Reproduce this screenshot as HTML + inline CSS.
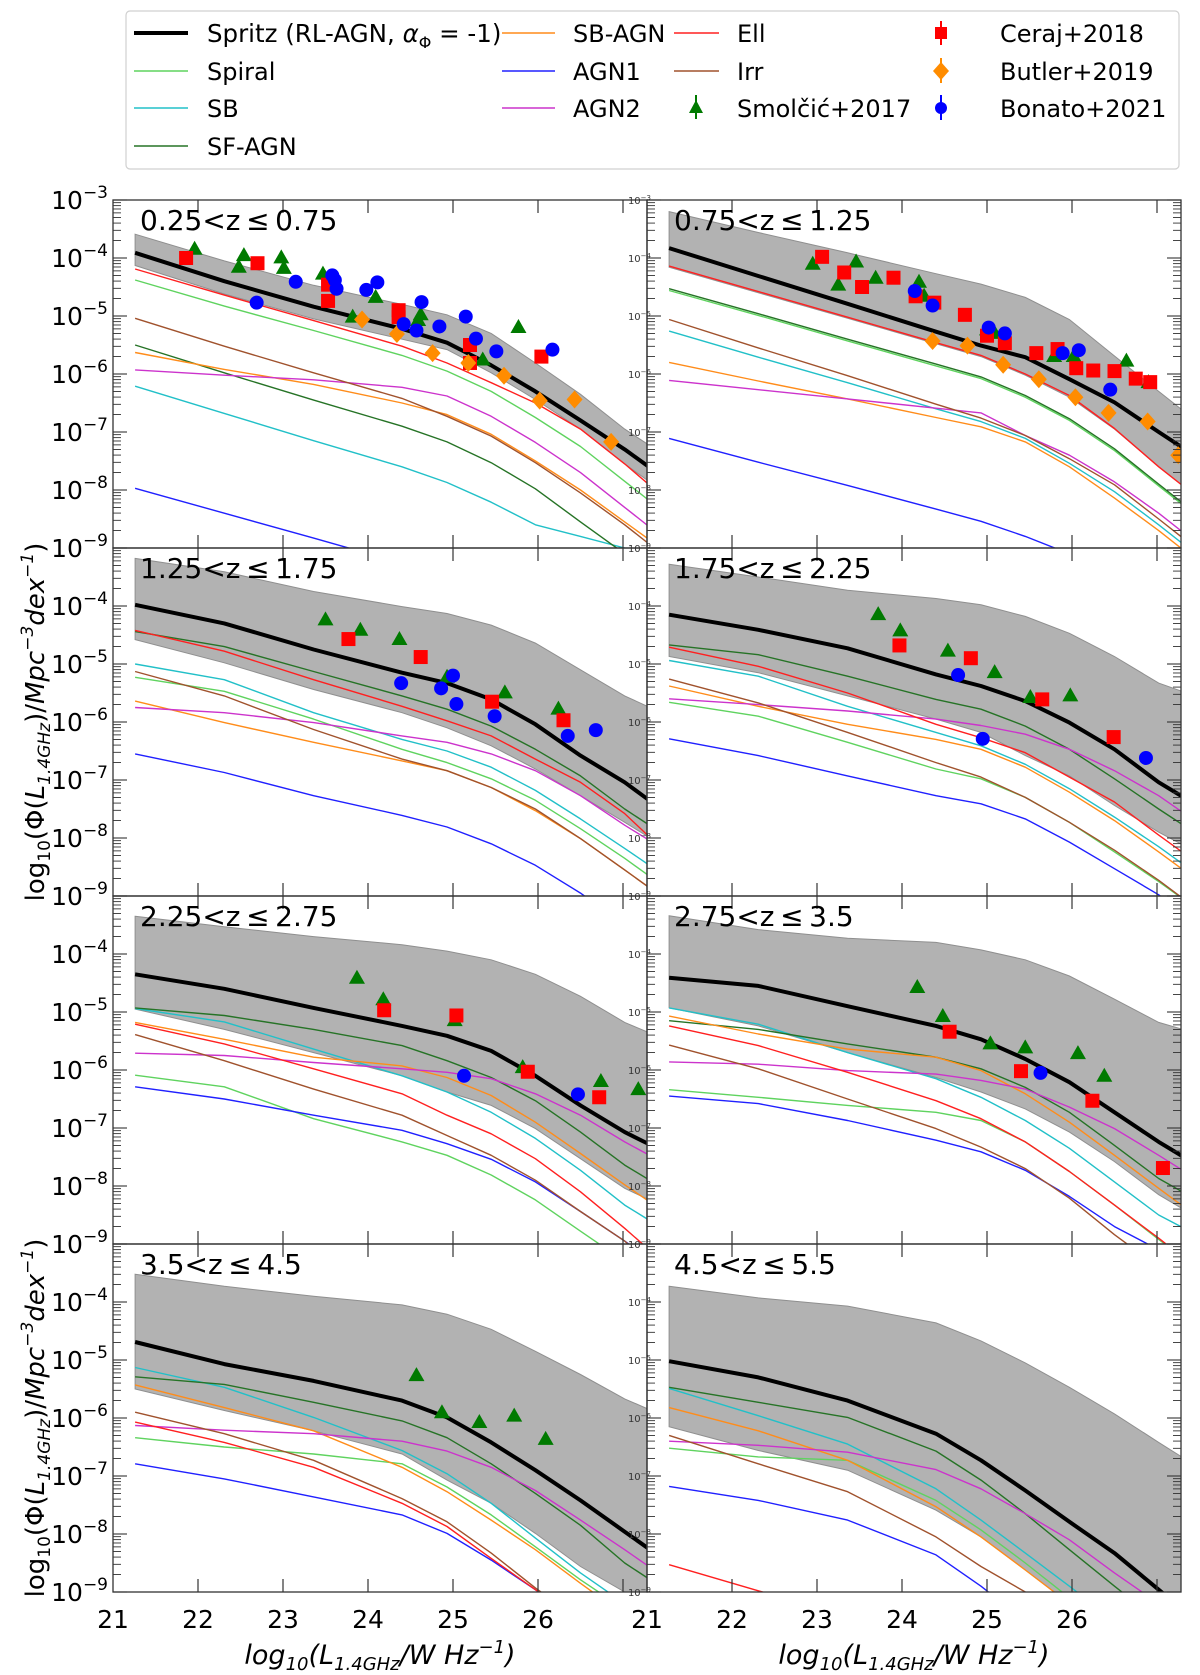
<!DOCTYPE html>
<html><head><meta charset="utf-8"><style>
html,body{margin:0;padding:0;background:#fff;}
svg{display:block;font-family:"DejaVu Sans","Liberation Sans",sans-serif;}
</style></head><body>
<svg id="fig" width="1200" height="1675" viewBox="0 0 1200 1675" xmlns="http://www.w3.org/2000/svg">
<g id="legend">
<rect x="126" y="11" width="1053" height="158" rx="4" fill="#fff" stroke="#d0d0d0" stroke-width="1.2"/>
<g><line x1="134" y1="33" x2="188" y2="33" stroke="#000" stroke-width="4"/><text x="207" y="42" font-size="24.5">Spritz (RL-AGN, <tspan font-style="italic">α</tspan><tspan font-size="16" dy="6">Φ</tspan><tspan dy="-6"> = -1)</tspan></text></g>
<g><line x1="134" y1="71" x2="188" y2="71" stroke="#5fd35f" stroke-width="1.5"/><text x="207" y="80" font-size="24">Spiral</text></g>
<g><line x1="134" y1="108" x2="188" y2="108" stroke="#22c0c8" stroke-width="1.5"/><text x="207" y="117" font-size="24">SB</text></g>
<g><line x1="134" y1="146" x2="188" y2="146" stroke="#267326" stroke-width="1.5"/><text x="207" y="155" font-size="24">SF-AGN</text></g>
<g><line x1="502" y1="33" x2="555" y2="33" stroke="#ff8c1a" stroke-width="1.5"/><text x="573" y="42" font-size="24">SB-AGN</text></g>
<g><line x1="502" y1="71" x2="555" y2="71" stroke="#2020ff" stroke-width="1.5"/><text x="573" y="80" font-size="24">AGN1</text></g>
<g><line x1="502" y1="108" x2="555" y2="108" stroke="#cc33cc" stroke-width="1.5"/><text x="573" y="117" font-size="24">AGN2</text></g>
<g><line x1="674" y1="33" x2="719" y2="33" stroke="#ff2020" stroke-width="1.5"/><text x="737" y="42" font-size="24">Ell</text></g>
<g><line x1="674" y1="71" x2="719" y2="71" stroke="#a0522d" stroke-width="1.5"/><text x="737" y="80" font-size="24">Irr</text></g>
<g><line x1="696" y1="95" x2="696" y2="119" stroke="#007a00" stroke-width="2"/><polygon points="696,100 703,113 689,113" fill="#007a00"/><text x="737" y="117" font-size="24">Smolčić+2017</text></g>
<g><line x1="941" y1="21" x2="941" y2="45" stroke="#f00" stroke-width="2"/><rect x="935" y="27" width="12" height="12" fill="#f00"/><text x="1000" y="42" font-size="24">Ceraj+2018</text></g>
<g><line x1="941" y1="58" x2="941" y2="83" stroke="#ff8c00" stroke-width="2"/><polygon points="941,62 949,71 941,80 933,71" fill="#ff8c00"/><text x="1000" y="80" font-size="24">Butler+2019</text></g>
<g><line x1="941" y1="95" x2="941" y2="120" stroke="#0000ff" stroke-width="2"/><circle cx="941" cy="108" r="6" fill="#0000ff"/><text x="1000" y="117" font-size="24">Bonato+2021</text></g>
</g>
<g id="panels"></g>
<g id="axes-text"></g>
</svg>
<script>
const lGrid = [21.26,22.31,23.36,24.40,24.93,25.45,25.97,26.50,27.02,27.54];
const panelTitles = ["0.25<z\u2009\u2264\u20090.75","0.75<z\u2009\u2264\u20091.25","1.25<z\u2009\u2264\u20091.75","1.75<z\u2009\u2264\u20092.25","2.25<z\u2009\u2264\u20092.75","2.75<z\u2009\u2264\u20093.5","3.5<z\u2009\u2264\u20094.5","4.5<z\u2009\u2264\u20095.5"];
const xTickValues = [22,23,24,25,26,27];
const xTickLabelsLeft = ["21","22","23","24","25","26"];
const xTickLabelsRight = ["21","22","23","24","25","26"];
const yTickExps = [-3,-4,-5,-6,-7,-8,-9];

const spritz = [
[-3.91,-4.40,-4.84,-5.22,-5.46,-5.85,-6.30,-6.80,-7.30,-7.85],
[-3.83,-4.31,-4.79,-5.27,-5.51,-5.71,-6.09,-6.49,-7.0,-7.5],
[-3.98,-4.30,-4.75,-5.15,-5.33,-5.61,-6.04,-6.58,-7.04,-7.6],
[-4.15,-4.41,-4.73,-5.18,-5.38,-5.64,-6.01,-6.47,-7.04,-7.5],
[-4.35,-4.60,-4.93,-5.24,-5.41,-5.67,-6.10,-6.61,-7.07,-7.45],
[-4.41,-4.55,-4.90,-5.24,-5.47,-5.81,-6.21,-6.73,-7.24,-7.7],
[-4.69,-5.07,-5.36,-5.70,-5.99,-6.42,-6.90,-7.42,-7.96,-8.5],
[-5.02,-5.30,-5.70,-6.27,-6.73,-7.25,-7.79,-8.33,-8.96,-9.6]];
const bandUpper = [
[-3.59,-4.05,-4.47,-4.80,-4.98,-5.30,-5.81,-6.35,-6.95,-7.45],
[-3.2,-3.56,-3.91,-4.27,-4.45,-4.68,-5.06,-5.69,-6.3,-6.9],
[-3.18,-3.41,-3.75,-4.01,-4.13,-4.33,-4.64,-5.10,-5.55,-5.9],
[-3.28,-3.50,-3.73,-3.87,-3.98,-4.18,-4.47,-4.87,-5.33,-5.6],
[-3.35,-3.53,-3.70,-3.84,-3.95,-4.10,-4.35,-4.73,-5.18,-5.5],
[-3.34,-3.58,-3.73,-3.80,-3.93,-4.10,-4.38,-4.78,-5.18,-5.4],
[-3.52,-3.73,-3.90,-4.05,-4.21,-4.47,-4.85,-5.25,-5.67,-6.0],
[-3.73,-3.93,-4.07,-4.36,-4.67,-5.05,-5.47,-5.93,-6.42,-6.9]];
const bandLower = [
[-4.13,-4.62,-5.05,-5.40,-5.58,-5.98,-6.44,-6.95,-7.55,-8.1],
[-4.16,-4.60,-5.04,-5.48,-5.70,-6.02,-6.40,-6.95,-7.6,-8.2],
[-4.58,-4.98,-5.44,-5.84,-6.10,-6.41,-6.81,-7.27,-7.73,-8.2],
[-4.87,-5.15,-5.55,-5.95,-6.18,-6.58,-6.93,-7.44,-7.90,-8.3],
[-4.95,-5.30,-5.70,-6.10,-6.38,-6.61,-7.01,-7.53,-8.04,-8.4],
[-4.93,-5.24,-5.70,-6.13,-6.38,-6.67,-7.07,-7.58,-8.15,-8.6],
[-5.50,-5.87,-6.22,-6.62,-7.07,-7.47,-7.99,-8.56,-9.0,-9.6],
[-6.15,-6.56,-6.90,-7.59,-8.05,-8.62,-9.2,-9.8,-10,-10]];
const spiral = [
[-4.38,-4.83,-5.25,-5.68,-5.95,-6.30,-6.75,-7.25,-7.85,-8.45],
[-4.56,-4.99,-5.43,-5.86,-6.08,-6.40,-6.80,-7.32,-7.93,-8.53],
[-5.23,-5.47,-5.95,-6.47,-6.70,-6.98,-7.35,-7.84,-8.35,-8.9],
[-5.66,-5.90,-6.35,-6.81,-6.98,-7.30,-7.73,-8.24,-8.75,-9.3],
[-6.09,-6.29,-6.84,-7.24,-7.47,-7.81,-8.24,-8.78,-9.3,-9.8],
[-6.34,-6.47,-6.61,-6.73,-6.87,-7.24,-7.75,-8.33,-8.92,-9.5],
[-6.34,-6.50,-6.62,-6.79,-7.19,-7.67,-8.22,-8.79,-9.3,-9.9],
[-6.52,-6.67,-6.73,-7.42,-7.93,-8.50,-9.1,-9.7,-10,-10]];
const sb = [
[-6.21,-6.68,-7.15,-7.60,-7.87,-8.21,-8.6,-8.8,-9.0,-9.2],
[-5.26,-5.71,-6.15,-6.6,-6.82,-7.11,-7.54,-8.03,-8.6,-9.2],
[-5.0,-5.27,-5.84,-6.30,-6.50,-6.78,-7.18,-7.67,-8.18,-8.7],
[-4.94,-5.21,-5.73,-6.18,-6.41,-6.73,-7.15,-7.64,-8.15,-8.7],
[-4.94,-5.17,-5.64,-6.10,-6.38,-6.73,-7.18,-7.73,-8.33,-8.8],
[-4.93,-5.21,-5.70,-6.15,-6.47,-6.87,-7.35,-7.93,-8.50,-8.9],
[-5.13,-5.47,-5.99,-6.56,-6.96,-7.47,-8.07,-8.67,-9.2,-9.8],
[-5.49,-5.96,-6.45,-7.22,-7.76,-8.33,-8.9,-9.5,-10,-10]];
const sfAgn = [
[-5.50,-5.98,-6.45,-6.90,-7.17,-7.53,-7.98,-8.55,-9.1,-9.7],
[-4.53,-4.96,-5.40,-5.83,-6.05,-6.37,-6.77,-7.29,-7.9,-8.5],
[-4.44,-4.70,-5.13,-5.55,-5.78,-6.07,-6.47,-6.93,-7.50,-8.0],
[-4.67,-4.84,-5.21,-5.61,-5.78,-6.07,-6.47,-6.98,-7.50,-8.0],
[-4.93,-5.06,-5.30,-5.58,-5.84,-6.13,-6.53,-7.07,-7.64,-8.1],
[-5.15,-5.30,-5.55,-5.78,-5.98,-6.30,-6.73,-7.30,-7.87,-8.3],
[-5.29,-5.42,-5.73,-6.05,-6.34,-6.79,-7.30,-7.85,-8.50,-9.0],
[-5.47,-5.73,-5.99,-6.57,-7.07,-7.65,-8.27,-8.90,-9.5,-10]];
const sbAgn = [
[-5.63,-5.92,-6.18,-6.50,-6.70,-7.04,-7.50,-8.0,-8.55,-9.1],
[-5.80,-6.12,-6.43,-6.75,-6.91,-7.17,-7.6,-8.14,-8.7,-9.3],
[-5.64,-6.01,-6.35,-6.67,-6.84,-7.13,-7.53,-8.01,-8.55,-9.1],
[-5.38,-5.73,-6.04,-6.30,-6.47,-6.78,-7.21,-7.70,-8.24,-8.8],
[-5.18,-5.47,-5.78,-5.93,-6.13,-6.44,-6.90,-7.44,-7.98,-8.5],
[-5.07,-5.38,-5.64,-5.78,-6.01,-6.41,-6.90,-7.47,-8.04,-8.6],
[-5.43,-5.82,-6.22,-6.85,-7.27,-7.76,-8.27,-8.85,-9.4,-10],
[-5.82,-6.22,-6.73,-7.53,-8.05,-8.62,-9.2,-9.8,-10,-10]];
const agn1 = [
[-7.97,-8.40,-8.83,-9.26,-9.5,-9.8,-10,-10,-10,-10],
[-7.11,-7.52,-7.92,-8.33,-8.54,-8.8,-9.1,-9.5,-10,-10],
[-6.55,-6.87,-7.27,-7.61,-7.81,-8.10,-8.47,-8.95,-9.5,-10],
[-6.29,-6.58,-6.93,-7.27,-7.41,-7.67,-8.07,-8.53,-8.98,-9.6],
[-6.29,-6.50,-6.78,-7.04,-7.27,-7.54,-7.93,-8.44,-8.95,-9.5],
[-6.45,-6.58,-6.87,-7.21,-7.41,-7.73,-8.18,-8.70,-9.1,-9.6],
[-6.79,-7.05,-7.36,-7.67,-7.99,-8.45,-8.96,-9.5,-10,-10],
[-7.18,-7.42,-7.76,-8.36,-8.90,-9.5,-10,-10,-10,-10]];
const agn2 = [
[-5.93,-6.02,-6.10,-6.23,-6.38,-6.73,-7.18,-7.70,-8.3,-8.9],
[-6.11,-6.27,-6.43,-6.59,-6.67,-7.06,-7.40,-7.86,-8.4,-9.0],
[-5.75,-5.84,-6.01,-6.24,-6.35,-6.55,-6.84,-7.27,-7.78,-8.25],
[-5.60,-5.70,-5.81,-5.95,-6.06,-6.21,-6.47,-6.84,-7.27,-7.8],
[-5.71,-5.75,-5.87,-5.98,-6.04,-6.15,-6.41,-6.78,-7.24,-7.65],
[-5.86,-5.90,-6.01,-6.07,-6.18,-6.33,-6.64,-7.01,-7.47,-7.95],
[-6.13,-6.21,-6.27,-6.40,-6.57,-6.85,-7.25,-7.76,-8.27,-8.8],
[-6.40,-6.47,-6.59,-6.89,-7.22,-7.65,-8.10,-8.67,-9.2,-9.8]];
const ell = [
[-4.19,-4.64,-5.08,-5.52,-5.81,-6.15,-6.50,-6.95,-7.55,-8.2],
[-4.14,-4.58,-5.02,-5.46,-5.68,-6.0,-6.37,-6.94,-7.6,-8.2],
[-4.42,-4.78,-5.27,-5.73,-5.98,-6.24,-6.64,-7.04,-7.58,-8.3],
[-4.71,-5.04,-5.50,-6.04,-6.27,-6.53,-6.95,-7.38,-7.95,-8.5],
[-5.21,-5.55,-5.98,-6.41,-6.78,-7.10,-7.53,-8.10,-8.73,-9.4],
[-5.24,-5.58,-6.04,-6.53,-6.84,-7.24,-7.75,-8.33,-8.90,-9.5],
[-6.07,-6.42,-6.85,-7.47,-7.87,-8.42,-8.96,-9.5,-10,-10],
[-8.53,-8.98,-9.4,-9.9,-10,-10,-10,-10,-10,-10]];
const irr = [
[-5.04,-5.52,-5.98,-6.42,-6.73,-7.07,-7.53,-8.05,-8.6,-9.2],
[-5.06,-5.55,-6.03,-6.52,-6.76,-7.06,-7.46,-7.91,-8.5,-9.1],
[-5.13,-5.55,-6.13,-6.64,-6.84,-7.13,-7.50,-8.01,-8.55,-9.1],
[-5.26,-5.67,-6.18,-6.70,-6.95,-7.30,-7.73,-8.21,-8.73,-9.3],
[-5.39,-5.84,-6.33,-6.78,-7.13,-7.47,-7.90,-8.44,-8.95,-9.6],
[-5.57,-5.98,-6.50,-7.01,-7.33,-7.70,-8.21,-8.84,-9.4,-10],
[-5.90,-6.27,-6.73,-7.39,-7.79,-8.33,-8.93,-9.5,-10,-10],
[-6.30,-6.79,-7.27,-8.05,-8.56,-9.0,-9.6,-10,-10,-10]];

const smolcic = [
[0,21.96,-3.84],[0,22.54,-3.95],[0,22.48,-4.15],[0,22.98,-3.99],[0,23.01,-4.17],[0,23.47,-4.27],[0,23.82,-5.01],[0,24.09,-4.67],[0,24.62,-4.97],[0,24.59,-5.07],[0,25.35,-5.75],[0,25.77,-5.19],
[1,22.95,-4.10],[1,23.25,-4.46],[1,23.46,-4.06],[1,23.69,-4.34],[1,24.20,-4.41],[1,24.26,-4.65],[1,25.00,-5.23],[1,25.09,-5.29],[1,25.79,-5.69],[1,26.02,-5.69],[1,26.64,-5.77],[1,26.9,-6.14],
[2,23.50,-4.23],[2,23.91,-4.41],[2,24.37,-4.57],[2,24.93,-5.22],[2,25.61,-5.49],[2,26.24,-5.77],
[3,23.72,-4.14],[3,23.98,-4.42],[3,24.54,-4.77],[3,25.09,-5.14],[3,25.51,-5.57],[3,25.98,-5.54],
[4,23.87,-4.41],[4,24.18,-4.78],[4,25.02,-5.14],[4,25.82,-5.95],[4,26.74,-6.19],[4,27.18,-6.33],
[5,24.18,-4.57],[5,24.48,-5.07],[5,25.04,-5.54],[5,25.45,-5.61],[5,26.07,-5.71],[5,26.38,-6.10],
[6,24.57,-5.26],[6,24.87,-5.90],[6,25.31,-6.07],[6,25.72,-5.96],[6,26.09,-6.36]];
const ceraj = [
[0,21.86,-4.0],[0,22.70,-4.09],[0,23.53,-4.46],[0,23.53,-4.74],[0,24.36,-4.90],[0,24.36,-5.02],[0,25.20,-5.50],[0,25.20,-5.81],[0,26.04,-5.70],
[1,23.06,-3.98],[1,23.32,-4.25],[1,23.53,-4.50],[1,23.90,-4.34],[1,24.16,-4.66],[1,24.38,-4.77],[1,24.74,-4.98],[1,25.00,-5.34],[1,25.21,-5.47],[1,25.58,-5.64],[1,25.83,-5.57],[1,26.05,-5.90],[1,26.25,-5.94],[1,26.50,-5.95],[1,26.75,-6.08],[1,26.92,-6.14],
[2,23.77,-4.57],[2,24.62,-4.88],[2,25.46,-5.65],[2,26.30,-5.97],
[3,23.97,-4.68],[3,24.81,-4.90],[3,25.65,-5.61],[3,26.49,-6.26],
[4,24.19,-4.97],[4,25.04,-5.06],[4,25.88,-6.03],[4,26.72,-6.47],
[5,24.56,-5.34],[5,25.40,-6.02],[5,26.24,-6.53],[5,27.07,-7.69]];
const butler = [
[0,23.93,-5.06],[0,24.34,-5.31],[0,24.76,-5.64],[0,25.18,-5.81],[0,25.60,-6.03],[0,26.02,-6.46],[0,26.43,-6.44],[0,26.86,-7.17],
[1,24.36,-5.43],[1,24.77,-5.51],[1,25.19,-5.84],[1,25.61,-6.09],[1,26.04,-6.40],[1,26.43,-6.67],[1,26.89,-6.82],[1,27.25,-7.4]];
const bonato = [
[0,22.69,-4.77],[0,23.15,-4.41],[0,23.58,-4.30],[0,23.61,-4.38],[0,23.63,-4.53],[0,23.98,-4.55],[0,24.11,-4.42],[0,24.42,-5.14],[0,24.57,-5.25],[0,24.63,-4.76],[0,24.84,-5.18],[0,25.15,-5.01],[0,25.27,-5.39],[0,25.51,-5.61],[0,26.17,-5.58],
[1,24.15,-4.57],[1,24.36,-4.82],[1,25.02,-5.20],[1,25.21,-5.30],[1,25.89,-5.64],[1,26.08,-5.59],[1,26.45,-6.27],
[2,24.39,-5.33],[2,24.86,-5.42],[2,25.00,-5.20],[2,25.04,-5.69],[2,25.49,-5.90],[2,26.35,-6.24],[2,26.68,-6.14],
[3,24.66,-5.19],[3,24.95,-6.29],[3,26.87,-6.62],
[4,25.13,-6.10],[4,26.47,-6.42],
[5,25.63,-6.05]];

const NS = "http://www.w3.org/2000/svg";
const PX0 = 113, PW = 534, PY0 = 200, PH = 348, UNIT = 85, DEC = 58;
function panelLeft(p){ return PX0 + (p % 2) * PW; }
function panelTop(p){ return PY0 + Math.floor(p / 2) * PH; }
function xScale(p, L){ return panelLeft(p) + (L - 21) * UNIT; }
function yScale(p, v){ return panelTop(p) + (-3 - v) * DEC; }
function mk(tag, attrs, parent){ const e = document.createElementNS(NS, tag); for (const k in attrs) e.setAttribute(k, attrs[k]); if (parent) parent.appendChild(e); return e; }

const panelsG = document.getElementById('panels');
const txtG = document.getElementById('axes-text');
const defs = mk('defs', {}, document.getElementById('fig'));

const series = [
 ['spiral-line', spiral, '#5fd35f'], ['sb-line', sb, '#22c0c8'], ['sf-agn-line', sfAgn, '#267326'],
 ['sb-agn-line', sbAgn, '#ff8c1a'], ['agn1-line', agn1, '#2020ff'], ['agn2-line', agn2, '#cc33cc'],
 ['ell-line', ell, '#ff2020'], ['irr-line', irr, '#a0522d']];

for (let p = 0; p < 8; p++) {
  const x0 = panelLeft(p), y0 = panelTop(p);
  const cp = mk('clipPath', {id: 'clip' + p}, defs);
  mk('rect', {x: x0, y: y0, width: PW, height: PH}, cp);
  const g = mk('g', {'clip-path': 'url(#clip' + p + ')'}, panelsG);
  
  
  let d = '';
  lGrid.forEach((L, i) => { d += (i ? 'L' : 'M') + xScale(p, L).toFixed(1) + ',' + yScale(p, bandUpper[p][i]).toFixed(1); });
  for (let i = lGrid.length - 1; i >= 0; i--) d += 'L' + xScale(p, lGrid[i]).toFixed(1) + ',' + yScale(p, bandLower[p][i]).toFixed(1);
  const band = mk('path', {d: d + 'Z', fill: '#b2b2b2', stroke: '#8f8f8f', 'stroke-width': 1}, g);
  
  
  const line = (arr, col, w, name) => {
    const pts = lGrid.map((L, i) => xScale(p, L).toFixed(1) + ',' + yScale(p, arr[p][i]).toFixed(1)).join(' ');
    const e = mk('polyline', {points: pts, fill: 'none', stroke: col, 'stroke-width': w, 'stroke-linejoin': 'round'}, g);
    
    
  };
  series.forEach(s => line(s[1], s[2], 1.4, s[0]));
  line(spritz, '#000', 4, 'spritz-total-line');
  smolcic.filter(q => q[0] === p).forEach(q => {
    const cx = xScale(p, q[1]), cy = yScale(p, q[2]);
    const e = mk('polygon', {points: `${cx},${cy-8} ${cx+8},${cy+6} ${cx-8},${cy+6}`, fill: '#007a00'}, g);
    
    
  });
  ceraj.filter(q => q[0] === p).forEach(q => {
    const cx = xScale(p, q[1]), cy = yScale(p, q[2]);
    const e = mk('rect', {x: cx - 7, y: cy - 7, width: 14, height: 14, fill: '#f00'}, g);
    
    
  });
  butler.filter(q => q[0] === p).forEach(q => {
    const cx = xScale(p, q[1]), cy = yScale(p, q[2]);
    const e = mk('polygon', {points: `${cx},${cy-9} ${cx+8},${cy} ${cx},${cy+9} ${cx-8},${cy}`, fill: '#ff8c00'}, g);
    
    
  });
  bonato.filter(q => q[0] === p).forEach(q => {
    const cx = xScale(p, q[1]), cy = yScale(p, q[2]);
    const e = mk('circle', {cx: cx, cy: cy, r: 7, fill: '#0000ff'}, g);
    
    
  });
  const fr = mk('rect', {x: x0, y: y0, width: PW, height: PH, fill: 'none', stroke: '#333', 'stroke-width': 1.3}, panelsG);
  
  
  xTickValues.forEach(v => {
    const x = xScale(p, v);
    if (x >= x0 + PW - 2) return;
    mk('line', {x1: x, y1: y0, x2: x, y2: y0 + 13, stroke: '#333', 'stroke-width': 1.2}, panelsG);
    mk('line', {x1: x, y1: y0 + PH, x2: x, y2: y0 + PH - 13, stroke: '#333', 'stroke-width': 1.2}, panelsG);
  });
  const edges = (p % 2) ? [x0, x0 + PW] : [x0];
  edges.forEach((ex, k) => {
    const dir = k === 0 ? 1 : -1;
    for (let e = -9; e <= -3; e++) {
      const y = yScale(p, e);
      mk('line', {x1: ex, y1: y, x2: ex + dir * 14, y2: y, stroke: '#333', 'stroke-width': 1.1}, panelsG);
      if (e < -3) for (let m = 2; m <= 9; m++) {
        const ym = yScale(p, e + Math.log10(m));
        mk('line', {x1: ex, y1: ym, x2: ex + dir * 8, y2: ym, stroke: '#333', 'stroke-width': 0.9}, panelsG);
      }
    }
  });
  const t = mk('text', {x: x0 + 27, y: y0 + 30, 'font-size': 28, fill: '#000'}, txtG);
  t.textContent = panelTitles[p];
  
  
  yTickExps.forEach(e => {
    if (e === -3 && p > 1) return;
    const y = yScale(p, e);
    let lab;
    if (p % 2 === 0) {
      lab = mk('text', {x: x0 - 5, y: y + 9, 'font-size': 25, 'text-anchor': 'end', fill: '#000'}, txtG);
      lab.innerHTML = '10<tspan font-size="17" dy="-11">\u2212' + (-e) + '</tspan>';
    } else {
      lab = mk('text', {x: x0 + 4, y: y + 4, 'font-size': 10, 'text-anchor': 'end', fill: '#333'}, txtG);
      lab.innerHTML = '10<tspan font-size="7" dy="-4">\u2212' + (-e) + '</tspan>';
    }
    
    
  });
}
const yb = PY0 + 4 * PH;
xTickLabelsLeft.forEach((s, i) => {
  const e = mk('text', {x: xScale(6, 21 + i), y: yb + 36, 'font-size': 25, 'text-anchor': 'middle'}, txtG);
  e.textContent = s;
  
  
});
xTickLabelsRight.forEach((s, i) => {
  const e = mk('text', {x: xScale(7, 21 + i), y: yb + 36, 'font-size': 25, 'text-anchor': 'middle'}, txtG);
  e.textContent = s;
  
  
});
[0, 1].forEach(c => {
  const e = mk('text', {x: PX0 + c * PW + PW / 2, y: yb + 72, 'font-size': 27, 'text-anchor': 'middle', 'font-style': 'italic'}, txtG);
  e.innerHTML = 'log<tspan font-size="18" dy="6">10</tspan><tspan dy="-6">(L</tspan><tspan font-size="18" dy="6">1.4GHz</tspan><tspan dy="-6">/W Hz</tspan><tspan font-size="18" dy="-11">\u22121</tspan><tspan dy="11">)</tspan>';
  
  
});
[722, 1418].forEach(cy => {
  const e = mk('text', {x: 0, y: 0, 'font-size': 26, 'text-anchor': 'middle', transform: `translate(44,${cy}) rotate(-90)`}, txtG);
  e.innerHTML = 'log<tspan font-size="17" dy="6">10</tspan><tspan dy="-6">(\u03A6(</tspan><tspan font-style="italic">L</tspan><tspan font-size="17" dy="6" font-style="italic">1.4GHz</tspan><tspan dy="-6">)/</tspan><tspan font-style="italic">Mpc</tspan><tspan font-size="17" dy="-11" font-style="italic">\u22123</tspan><tspan dy="11" font-style="italic">dex</tspan><tspan font-size="17" dy="-11" font-style="italic">\u22121</tspan><tspan dy="11">)</tspan>';
  
  
});
</script>
</body></html>
